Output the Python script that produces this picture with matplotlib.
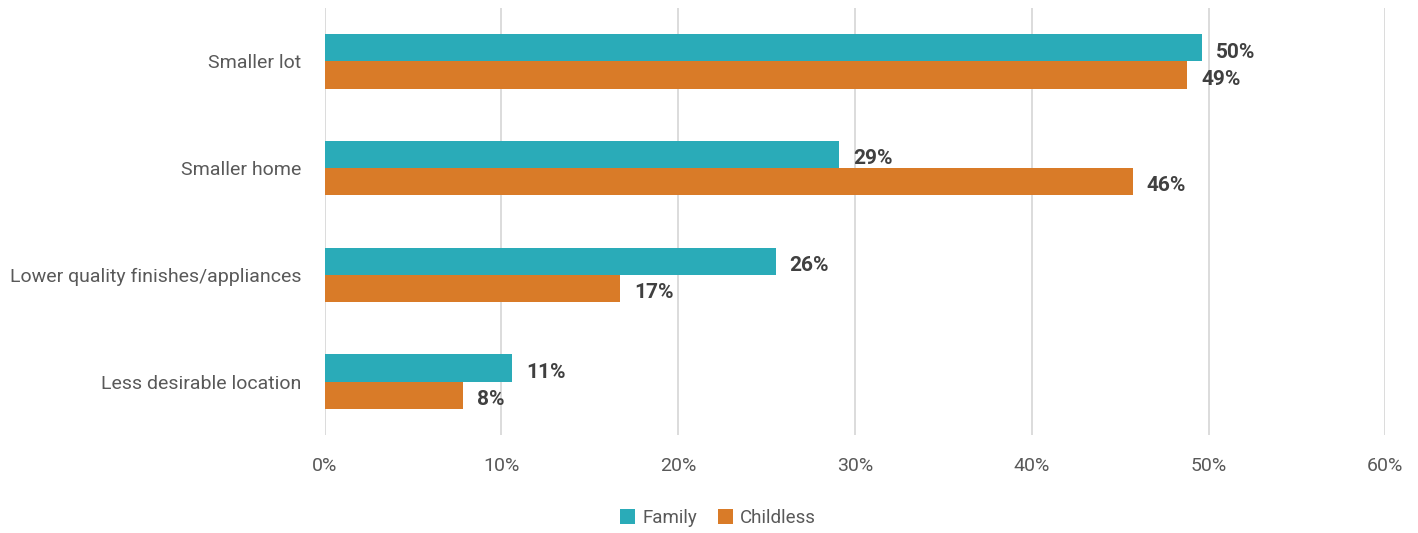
import matplotlib
matplotlib.use("Agg")
import matplotlib.pyplot as plt
from matplotlib import font_manager
import numpy as np

# Chart data
categories = ["Smaller lot", "Smaller home", "Lower quality finishes/appliances", "Less desirable location"]
family = [0.496, 0.291, 0.255, 0.106]
childless = [0.488, 0.457, 0.167, 0.078]
series_names = ["Family", "Childless"]
ticks = [0, 0.1, 0.2, 0.3, 0.4, 0.5, 0.6]

teal = "#2AABB8"
orange = "#D97B28"
grey = "#595959"

# pick a narrow font if one is available
names = {f.name for f in font_manager.fontManager.ttflist}
font = "Liberation Sans Narrow" if "Liberation Sans Narrow" in names else "Roboto"
plt.rcParams["font.family"] = [font, "DejaVu Sans"]

fig = plt.figure(figsize=(14.18, 5.33), dpi=100)
ax = fig.add_axes([0.229, 0.184, 0.748, 0.801])

y = np.arange(len(categories))
h = 0.255
ax.barh(y - h / 2, family, height=h, color=teal, label=series_names[0], zorder=3)
ax.barh(y + h / 2, childless, height=h, color=orange, label=series_names[1], zorder=3)

# value labels
for i in range(len(categories)):
    ax.text(family[i] + 0.008, y[i] - h / 2 + 0.04, f"{round(family[i] * 100):.0f}%",
            va="center", ha="left", fontsize=15, fontweight="bold", color="#404040")
    ax.text(childless[i] + 0.008, y[i] + h / 2 + 0.04, f"{round(childless[i] * 100):.0f}%",
            va="center", ha="left", fontsize=15, fontweight="bold", color="#404040")

ax.set_xlim(0, 0.6)
ax.set_ylim(3.5, -0.5)
ax.set_xticks(ticks)
ax.set_xticklabels([f"{int(t * 100)}%" for t in ticks], fontsize=14, color=grey)
ax.set_yticks(y)
ax.set_yticklabels(categories, fontsize=14, color=grey)
ax.tick_params(axis="both", length=0)
ax.tick_params(axis="x", pad=16)
ax.tick_params(axis="y", pad=17)
ax.xaxis.grid(True, color="#D9D9D9", linewidth=1.3, zorder=0)
for s in ax.spines.values():
    s.set_visible(False)

leg = ax.legend(loc="center", ncol=2, frameon=False, fontsize=13.5,
                handlelength=0.8, handleheight=0.8, handletextpad=0.4,
                columnspacing=1.1, labelcolor=grey)
leg.set_bbox_to_anchor((718 / 1418, 1 - 518 / 533), transform=fig.transFigure)

fig.savefig("out.png", dpi=100)
